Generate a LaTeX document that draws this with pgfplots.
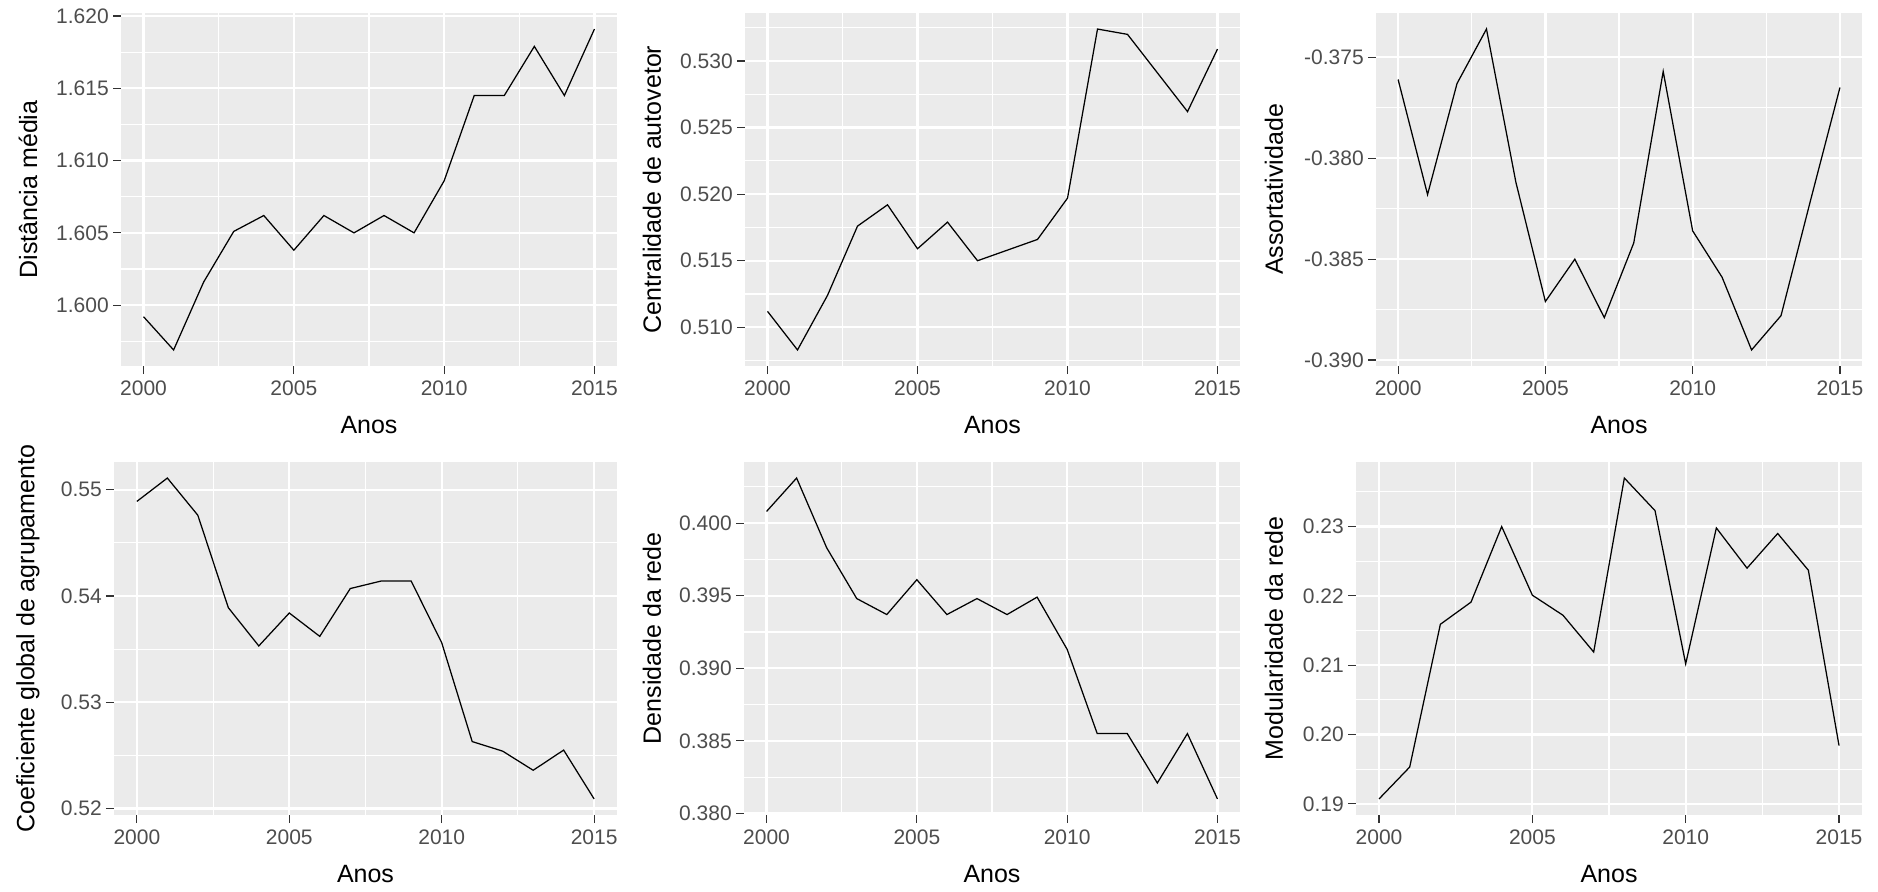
\documentclass[border=0pt]{standalone}
\usepackage{fontspec}
\setmainfont{Liberation Sans}
\usepackage{pgfplots}
\pgfplotsset{compat=1.18}
\definecolor{panelbg}{HTML}{EBEBEB}
\definecolor{gthirty}{HTML}{4D4D4D}
\definecolor{gtwenty}{HTML}{333333}
\pgfplotsset{
  gg/.style={
    scale only axis,
    anchor=south west,
    height=141.2pt,
    axis background/.style={fill=panelbg},
    axis line style={draw=none},
    grid=both,
    major grid style={white, line width=0.9pt},
    minor grid style={white, line width=0.45pt},
    tick align=outside,
    major tick length=3.2pt,
    minor tick length=0pt,
    xtick pos=lower, ytick pos=left,
    tick style={gtwenty, line width=0.45pt},
    xmin=1999.25, xmax=2015.75,
    xtick={2000,2005,2010,2015},
    xticklabels={2000,2005,2010,2015},
    minor xtick={2002.5,2007.5,2012.5},
    ticklabel style={font=\fontsize{8.4}{10}\selectfont, text=gthirty},
    xticklabel style={inner sep=1pt, yshift=-1.5pt},
    yticklabel style={inner sep=1pt, xshift=-0.5pt},
    label style={font=\fontsize{10.4}{12}\selectfont, text=black},
    xlabel={Anos},
    every axis x label/.style={at={(axis description cs:0.5,0)}, anchor=center, yshift=-23.8pt},
    every axis y label/.style={rotate=90, anchor=center},
  },
  ggline/.style={black, line width=0.5pt, mark=none},
}
\begin{document}
\begin{tikzpicture}
\useasboundingbox (0,0) rectangle (751.2pt,356.4pt);
% Panel 1
\begin{axis}[gg, at={(48.4pt,210pt)}, width=198.4pt,
  ymin=1.59579, ymax=1.62021,
  ytick={1.600,1.605,1.610,1.615,1.620},
  yticklabels={1.600,1.605,1.610,1.615,1.620},
  minor ytick={1.5975,1.6025,1.6075,1.6125,1.6175},
  ylabel={Distância média},
  ylabel style={at={(axis description cs:-0.1875,0.5)}}]
\addplot[ggline] coordinates {(2000,1.5992) (2001,1.5969) (2002,1.6016) (2003,1.6051) (2004,1.6062) (2005,1.6038) (2006,1.6062) (2007,1.6050) (2008,1.6062) (2009,1.6050) (2010,1.6086) (2011,1.6145) (2012,1.6145) (2013,1.6179) (2014,1.6145) (2015,1.6191)};
\end{axis}
% Panel 2
\begin{axis}[gg, at={(298pt,210pt)}, width=198pt,
  ymin=0.507095, ymax=0.533605,
  ytick={0.510,0.515,0.520,0.525,0.530},
  yticklabels={0.510,0.515,0.520,0.525,0.530},
  minor ytick={0.5075,0.5125,0.5175,0.5225,0.5275,0.5325},
  ylabel={Centralidade de autovetor},
  ylabel style={at={(axis description cs:-0.188,0.5)}}]
\addplot[ggline] coordinates {(2000,0.5112) (2001,0.5083) (2002,0.5124) (2003,0.5176) (2004,0.5192) (2005,0.5159) (2006,0.5179) (2007,0.5150) (2008,0.5158) (2009,0.5166) (2010,0.5197) (2011,0.5324) (2012,0.5320) (2013,0.5291) (2014,0.5262) (2015,0.5309)};
\end{axis}
% Panel 3
\begin{axis}[gg, at={(550.4pt,210pt)}, width=194.4pt,
  ymin=-0.390295, ymax=-0.372805,
  ytick={-0.390,-0.385,-0.380,-0.375},
  yticklabels={-0.390,-0.385,-0.380,-0.375},
  minor ytick={-0.3875,-0.3825,-0.3775},
  ylabel={Assortatividade},
  ylabel style={at={(axis description cs:-0.21,0.5)}}]
\addplot[ggline] coordinates {(2000,-0.3761) (2001,-0.3818) (2002,-0.3763) (2003,-0.3736) (2004,-0.3812) (2005,-0.3871) (2006,-0.3850) (2007,-0.3879) (2008,-0.3842) (2009,-0.3757) (2010,-0.3836) (2011,-0.3859) (2012,-0.3895) (2013,-0.3878) (2014,-0.3821) (2015,-0.3765)};
\end{axis}
% Panel 4
\begin{axis}[gg, at={(45.6pt,30.4pt)}, width=201.2pt,
  ymin=0.51939, ymax=0.55261,
  ytick={0.52,0.53,0.54,0.55},
  yticklabels={0.52,0.53,0.54,0.55},
  minor ytick={0.525,0.535,0.545},
  ylabel={Coeficiente global de agrupamento},
  ylabel style={at={(axis description cs:-0.171,0.5)}}]
\addplot[ggline] coordinates {(2000,0.5489) (2001,0.5511) (2002,0.5476) (2003,0.5389) (2004,0.5353) (2005,0.5384) (2006,0.5362) (2007,0.5407) (2008,0.5414) (2009,0.5414) (2010,0.5356) (2011,0.5263) (2012,0.5254) (2013,0.5236) (2014,0.5255) (2015,0.5209)};
\end{axis}
% Panel 5
\begin{axis}[gg, at={(297.6pt,30.4pt)}, width=198.4pt,
  ymin=0.379895, ymax=0.404205,
  ytick={0.380,0.385,0.390,0.395,0.400},
  yticklabels={0.380,0.385,0.390,0.395,0.400},
  minor ytick={0.3825,0.3875,0.3925,0.3975,0.4025},
  ylabel={Densidade da rede},
  ylabel style={at={(axis description cs:-0.1855,0.5)}}]
\addplot[ggline] coordinates {(2000,0.4008) (2001,0.4031) (2002,0.3983) (2003,0.3948) (2004,0.3937) (2005,0.3961) (2006,0.3937) (2007,0.3948) (2008,0.3937) (2009,0.3949) (2010,0.3913) (2011,0.3855) (2012,0.3855) (2013,0.3821) (2014,0.3855) (2015,0.3810)};
\end{axis}
% Panel 6
\begin{axis}[gg, at={(542.4pt,30.4pt)}, width=202.4pt,
  ymin=0.188385, ymax=0.239315,
  ytick={0.19,0.20,0.21,0.22,0.23},
  yticklabels={0.19,0.20,0.21,0.22,0.23},
  minor ytick={0.195,0.205,0.215,0.225,0.235},
  ylabel={Modularidade da rede},
  ylabel style={at={(axis description cs:-0.162,0.5)}}]
\addplot[ggline] coordinates {(2000,0.1907) (2001,0.1953) (2002,0.2159) (2003,0.2191) (2004,0.2300) (2005,0.2201) (2006,0.2172) (2007,0.2119) (2008,0.2370) (2009,0.2323) (2010,0.2102) (2011,0.2298) (2012,0.2240) (2013,0.2290) (2014,0.2237) (2015,0.1984)};
\end{axis}
\end{tikzpicture}
\end{document}
